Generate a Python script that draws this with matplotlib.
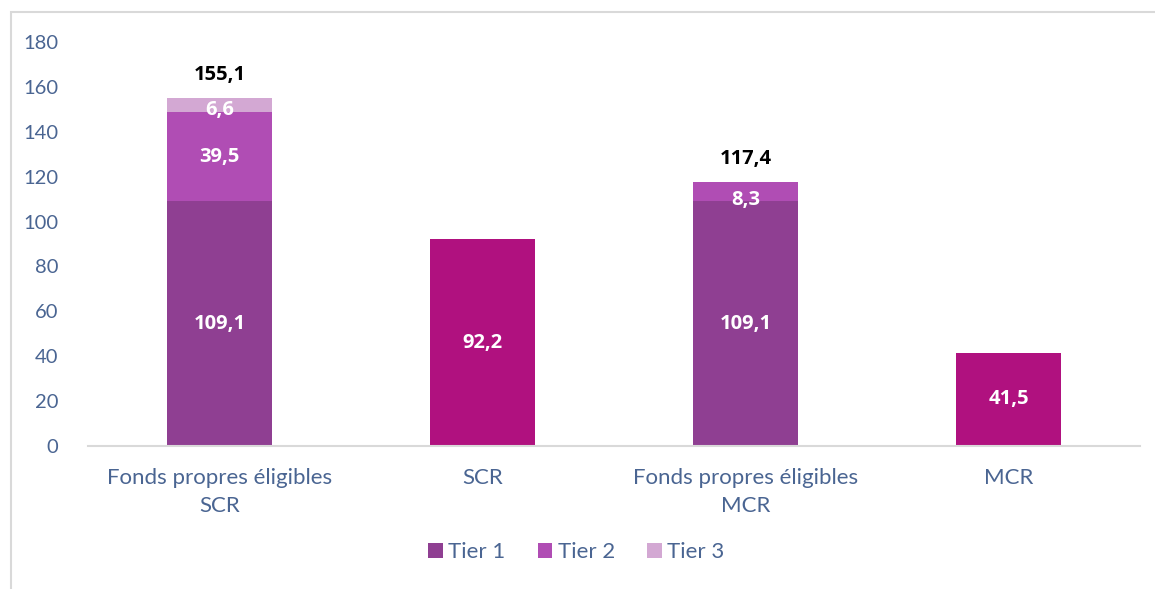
import numpy as np
import matplotlib.pyplot as plt
from matplotlib.patches import Rectangle

# données
categories = ["Fonds propres éligibles\nSCR", "SCR", "Fonds propres éligibles\nMCR", "MCR"]
tier1 = [109.1, 0, 109.1, 0]
tier2 = [39.5, 0, 8.3, 0]
tier3 = [6.6, 0, 0, 0]
exigences = [0, 92.2, 0, 41.5]
totaux = [155.1, None, 117.4, None]

plt.rcParams['font.family'] = ['Lato', 'DejaVu Sans']
txt_col = "#4A6592"
c1, c2, c3, c_req = "#8F3F92", "#B04DB4", "#D3A8D3", "#B0117F"

fig = plt.figure(figsize=(11.55, 5.89), dpi=100)
ax = fig.add_axes([0.0762, 0.2428, 0.9108, 0.686])

x = np.arange(len(categories))
w = 0.4
t1 = np.array(tier1)
t2 = np.array(tier2)
t3 = np.array(tier3)

ax.bar(x, t1, w, color=c1, label="Tier 1")
ax.bar(x, t2, w, bottom=t1, color=c2, label="Tier 2")
ax.bar(x, t3, w, bottom=t1 + t2, color=c3, label="Tier 3")
ax.bar(x, exigences, w, color=c_req)

def fmt(v):
    return f"{v:.1f}".replace(".", ",")

lab = dict(ha="center", va="center", color="white", fontsize=14.5, fontweight="bold",
           family=["Open Sans", "DejaVu Sans"])

# étiquettes dans les barres
for i in range(len(x)):
    if t1[i] > 0:
        ax.text(x[i], t1[i] / 2, fmt(t1[i]), **lab)
    if t2[i] > 0:
        y = t1[i] + t2[i] / 2 if t2[i] > 15 else t1[i] + t2[i] / 2 - 3.6
        ax.text(x[i], y, fmt(t2[i]), **lab)
    if t3[i] > 0:
        ax.text(x[i], t1[i] + t2[i] + t3[i] / 2 - 2.2, fmt(t3[i]), **lab)
    if exigences[i] > 0:
        ax.text(x[i], exigences[i] / 2, fmt(exigences[i]), **lab)
    if totaux[i] is not None:
        ax.text(x[i], totaux[i] + 10.3, fmt(totaux[i]), ha="center", va="center",
                color="black", fontsize=14.5, fontweight="bold", family=["Open Sans", "DejaVu Sans"])

ax.set_xlim(-0.5, 3.5)
ax.set_ylim(0, 180)
ax.set_yticks(range(0, 181, 20))
ax.set_xticks(x)
ax.set_xticklabels(categories, fontsize=16, linespacing=1.5)
ax.tick_params(axis="y", labelsize=14.5)
ax.tick_params(axis="both", length=0, colors=txt_col)
ax.tick_params(axis="x", pad=16)
ax.tick_params(axis="y", pad=21.5)
for s in ["top", "right", "left"]:
    ax.spines[s].set_visible(False)
ax.spines["bottom"].set_color("#D9D9D9")
ax.spines["bottom"].set_linewidth(1.5)

leg = fig.legend(handles=ax.containers[:3], labels=["Tier 1", "Tier 2", "Tier 3"],
                 loc="center", bbox_to_anchor=(0.499, 0.062), ncol=3, frameon=False,
                 fontsize=16, handlelength=0.65, handleheight=0.65, handletextpad=0.25,
                 columnspacing=1.45)
for t in leg.get_texts():
    t.set_color(txt_col)

# cadre du graphique
fig.patches.append(Rectangle((11 / 1155, -0.1), 1.2, 1 - 12 / 589 + 0.1, transform=fig.transFigure,
                             fill=False, edgecolor="#D9D9D9", linewidth=1.5))

fig.savefig("out.png", dpi=100)
